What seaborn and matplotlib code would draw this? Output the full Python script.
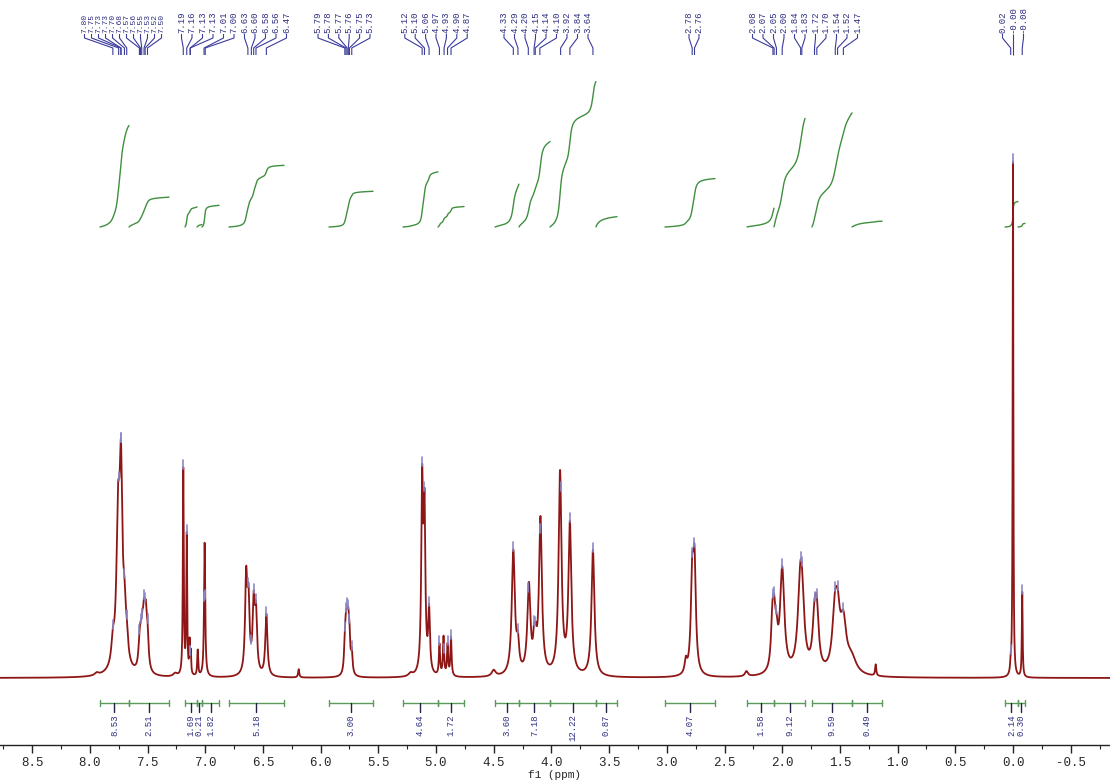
import numpy as np
import pandas as pd
import matplotlib
matplotlib.use("Agg")
import matplotlib.pyplot as plt
from matplotlib.ticker import MultipleLocator, FormatStrFormatter
import seaborn as sns

# ---------------- data ----------------
PEAK_PPM = [7.94, 7.80, 7.755, 7.73, 7.70, 7.68, 7.74,
            7.57, 7.56, 7.545, 7.53, 7.515, 7.50,
            7.26, 7.19, 7.16, 7.135, 7.125, 7.065, 7.005,
            6.645, 6.625, 6.58, 6.56, 6.47, 6.19,
            5.79, 5.78, 5.77, 5.76, 5.75, 5.73, 5.22,
            5.12, 5.10, 5.06, 4.97, 4.935, 4.90, 4.87,
            4.50, 4.33, 4.29, 4.195, 4.15, 4.135, 4.095, 3.925, 3.84, 3.64,
            2.835, 2.78, 2.76, 2.31,
            2.085, 2.07, 2.05, 2.00, 1.845, 1.83, 1.72, 1.70, 1.545, 1.52, 1.47, 1.40, 1.19,
            0.02, 0.00, -0.08]
PEAK_HEIGHT = [0.005, 0.04, 0.25, 0.33, 0.08, 0.04, 0.04,
               0.035, 0.045, 0.06, 0.085, 0.085, 0.06,
               0.006, 0.40, 0.27, 0.06, 0.04, 0.05, 0.26,
               0.18, 0.13, 0.13, 0.11, 0.12, 0.016,
               0.05, 0.07, 0.07, 0.07, 0.06, 0.04, 0.006,
               0.36, 0.30, 0.12, 0.06, 0.075, 0.06, 0.075,
               0.012, 0.24, 0.05, 0.17, 0.05, 0.04, 0.30, 0.39, 0.29, 0.245,
               0.025, 0.17, 0.20, 0.01,
               0.085, 0.085, 0.05, 0.20, 0.12, 0.12, 0.085, 0.10, 0.095, 0.095, 0.09, 0.03, 0.022,
               0.02, 1.0, 0.165]
PEAK_HWHM = [0.02, 0.015, 0.016, 0.014, 0.014, 0.014, 0.045,
             0.011, 0.011, 0.011, 0.011, 0.011, 0.011,
             0.02, 0.0045, 0.0045, 0.004, 0.004, 0.005, 0.006,
             0.011, 0.011, 0.011, 0.011, 0.011, 0.006,
             0.008, 0.008, 0.008, 0.008, 0.008, 0.008, 0.02,
             0.009, 0.009, 0.009, 0.006, 0.006, 0.006, 0.006,
             0.02, 0.016, 0.012, 0.016, 0.010, 0.010, 0.015, 0.015, 0.015, 0.015,
             0.012, 0.014, 0.014, 0.015,
             0.014, 0.014, 0.014, 0.022, 0.025, 0.025, 0.020, 0.020, 0.025, 0.025, 0.030, 0.05, 0.006,
             0.005, 0.0035, 0.004]

PEAK_LABELS = ["7.80", "7.75", "7.73", "7.73", "7.70", "7.68", "7.57", "7.56", "7.55", "7.53", "7.52", "7.50",
               "7.19", "7.16", "7.13", "7.13", "7.01", "7.00", "6.63", "6.60", "6.58", "6.56", "6.47",
               "5.79", "5.78", "5.77", "5.76", "5.75", "5.73",
               "5.12", "5.10", "5.06", "4.97", "4.93", "4.90", "4.87",
               "4.33", "4.29", "4.20", "4.15", "4.14", "4.10", "3.92", "3.84", "3.64",
               "2.78", "2.76",
               "2.08", "2.07", "2.05", "2.00", "1.84", "1.83", "1.72", "1.70", "1.54", "1.52", "1.47",
               "0.02", "-0.00", "-0.08"]
LABEL_GROUP_SIZES = [12, 11, 6, 7, 9, 2, 11, 3]

INT_VALUES = [8.53, 2.51, 1.69, 0.21, 1.82, 5.18, 3.00, 4.64, 1.72, 3.60, 7.18, 12.22, 0.87,
              4.07, 1.58, 9.12, 9.59, 0.49, 2.14, 0.30]
INT_START = [7.912, 7.660, 7.175, 7.071, 7.028, 6.794, 5.927, 5.286, 4.983, 4.489, 4.281, 4.012, 3.614,
             3.016, 2.305, 2.071, 1.742, 1.395, 0.069, -0.043]
INT_END = [7.660, 7.314, 7.071, 7.028, 6.880, 6.317, 5.546, 4.983, 4.757, 4.281, 4.012, 3.614, 3.432,
           2.582, 2.071, 1.802, 1.395, 1.135, -0.043, -0.104]

TICK_STEP = 0.5

# ---------------- layout helpers (pixel geometry) ----------------
W, H = 1110, 783
X_ZERO_PX, PX_PER_PPM = 1013.0, 115.4
BASE_PX, PX_PER_UNIT = 678.0, 516.0
AXIS_PX = 745.0


def xd(px):
    return (X_ZERO_PX - px) / PX_PER_PPM


def xp(ppm_val):
    return X_ZERO_PX - ppm_val * PX_PER_PPM


def yd(py):
    return (BASE_PX - py) / PX_PER_UNIT


# ---------------- spectrum ----------------
ppm = np.linspace(xd(0), xd(W), 48000)
pk = np.array(PEAK_PPM)[:, None]
hh = np.array(PEAK_HEIGHT)[:, None]
ww = np.array(PEAK_HWHM)[:, None]
spec = (hh / (1.0 + ((ppm[None, :] - pk) / ww) ** 2)).sum(axis=0)
df = pd.DataFrame({"ppm": ppm, "intensity": spec})

sns.set_theme(style="white")
plt.rcParams["font.family"] = ["Liberation Mono", "DejaVu Sans Mono"]
plt.rcParams["axes.unicode_minus"] = False

fig = plt.figure(figsize=(W / 100, H / 100), dpi=100)
ax = fig.add_axes([0, (H - AXIS_PX) / H, 1, AXIS_PX / H])
ax.set_xlim(xd(0), xd(W))
ax.set_ylim(yd(AXIS_PX), yd(0))

sns.lineplot(data=df, x="ppm", y="intensity", ax=ax, color="#8e1616",
             linewidth=1.3, estimator=None, sort=False, zorder=3)

# ---------------- peak labels ----------------
label_color = "#2c2c80"
lead_color = "#3b3b9c"
group_centers_px = [123, 234, 344, 436, 546, 694, 805, 1013]
group_spacing_px = [7.0, 10.5, 10.4, 10.4, 10.5, 10.0, 10.5, 10.5]
group_fontsize = [5.8, 6.5, 6.5, 6.5, 6.5, 6.5, 6.5, 6.5]
idx = 0
for n, cx, sp, fs in zip(LABEL_GROUP_SIZES, group_centers_px, group_spacing_px, group_fontsize):
    for k in range(n):
        lab = PEAK_LABELS[idx]
        val = float(lab)
        lx = cx + (k - (n - 1) / 2) * sp
        tx = xp(val)
        ax.text(xd(lx), yd(33), lab, rotation=90, ha="center", va="bottom",
                fontsize=fs, color=label_color, clip_on=False)
        ax.plot([xd(lx), xd(lx), xd(tx), xd(tx)], [yd(34), yd(38), yd(48), yd(55)],
                color=lead_color, lw=0.8, solid_capstyle="butt")
        # peak-pick marker at the top of the peak
        top = spec[np.argmin(np.abs(ppm - val))]
        ax.plot([val, val], [top - 2 / PX_PER_UNIT, top + 7 / PX_PER_UNIT],
                color="#8a8ac8", lw=1.2, zorder=4)
        idx += 1

# ---------------- integrals ----------------
int_color = "#3f8f3f"
bar_color = "#5a9a5a"
int_base = yd(227)
int_scale = 11.9 / PX_PER_UNIT
bar_y = yd(703)
for val, s, e in zip(INT_VALUES, INT_START, INT_END):
    m = (ppm <= s) & (ppm >= e)
    seg_x = ppm[m]
    cum = np.cumsum(spec[m])
    cum = cum / cum[-1] * val * int_scale
    ax.plot(seg_x, int_base + cum, color=int_color, lw=1.0, zorder=2)
    ax.plot([s, e], [bar_y, bar_y], color=bar_color, lw=1.0)
    for b in (s, e):
        ax.plot([b, b], [bar_y - 3 / PX_PER_UNIT, bar_y + 3 / PX_PER_UNIT], color=bar_color, lw=1.0)
    mid = (s + e) / 2
    ax.plot([mid, mid], [bar_y, yd(712)], color="#222244", lw=1.0)
    ax.text(mid, yd(714), f"{val:.2f}", rotation=90, ha="center", va="top",
            fontsize=6.5, color=label_color)

# ---------------- axis ----------------
for side in ("top", "left", "right"):
    ax.spines[side].set_visible(False)
ax.spines["bottom"].set_color("#222222")
ax.spines["bottom"].set_linewidth(1.0)
ax.set_yticks([])
ax.xaxis.set_major_locator(MultipleLocator(TICK_STEP))
ax.xaxis.set_minor_locator(MultipleLocator(TICK_STEP / 2))
ax.xaxis.set_major_formatter(FormatStrFormatter("%.1f"))
ax.tick_params(axis="x", which="major", direction="out", length=6, width=1.0,
               color="#222222", labelsize=9, pad=3, bottom=True)
ax.tick_params(axis="x", which="minor", direction="out", length=3, width=0.8,
               color="#222222", bottom=True)
ax.set_xlabel("f1 (ppm)", fontsize=8, labelpad=0)
ax.set_ylabel("")
ax.grid(False)

fig.savefig("out.png", dpi=100)
